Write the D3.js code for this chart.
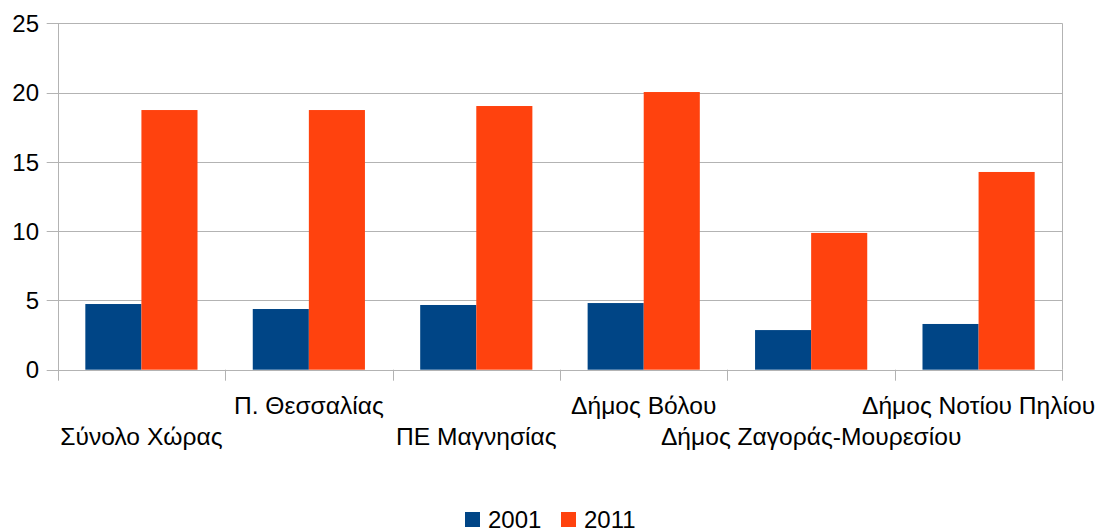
<!DOCTYPE html>
<html>
<head>
<meta charset="utf-8">
<script src="https://cdn.jsdelivr.net/npm/d3@7"></script>
<style>
  body { margin: 0; background: #fff; }
  svg { display: block; font-family: "Liberation Sans", Arial, sans-serif; }
</style>
</head>
<body>
<div id="chart"></div>
<script>
// data
const categories = ['Σύνολο Χώρας', 'Π. Θεσσαλίας', 'ΠΕ Μαγνησίας', 'Δήμος Βόλου', 'Δήμος Ζαγοράς-Μουρεσίου', 'Δήμος Νοτίου Πηλίου']
const series = ['2001', '2011']
const values2001 = [4.74, 4.38, 4.67, 4.81, 2.86, 3.30]
const values2011 = [18.74, 18.74, 19.03, 20.04, 9.87, 14.27]
const yTicks = [0, 5, 10, 15, 20, 25]

const colors = ['#004586', '#ff420e']

// canvas
const width = 1108,
      height = 531,
      plotLeft = 57.7,
      plotRight = 1062.3,
      plotTop = 23.3,
      plotBottom = 369.7,
      fontSize = 24

let svg = d3.select('#chart')
  .append('svg')
  .attr('width', width)
  .attr('height', height)

let x = d3.scaleBand()
  .domain(categories)
  .range([plotLeft, plotRight])
  .paddingInner(0)
  .paddingOuter(0)

let inner = d3.scaleBand()
  .domain(series)
  .range([x.bandwidth() * 0.165, x.bandwidth() * 0.835])

let y = d3.scaleLinear()
  .domain([0, 25])
  .range([plotBottom, plotTop])

// grid lines
svg.append('g')
  .selectAll('line')
  .data(yTicks)
  .enter()
  .append('line')
  .attr('x1', plotLeft - 11)
  .attr('x2', plotRight)
  .attr('y1', d => Math.round(y(d)) + 0.5)
  .attr('y2', d => Math.round(y(d)) + 0.5)
  .attr('stroke', '#b3b3b3')
  .attr('stroke-width', 1)

// y labels
svg.append('g')
  .selectAll('text')
  .data(yTicks)
  .enter()
  .append('text')
  .attr('x', 39)
  .attr('y', d => y(d))
  .attr('dy', '0.36em')
  .attr('text-anchor', 'end')
  .attr('font-size', fontSize)
  .attr('fill', '#000')
  .text(d => d)

// bars
let rows = categories.map((c, i) => ({ cat: c, vals: [values2001[i], values2011[i]] }))

let groups = svg.append('g')
  .selectAll('g')
  .data(rows)
  .enter()
  .append('g')
  .attr('transform', d => `translate(${x(d.cat)},0)`)

groups.selectAll('rect')
  .data(d => d.vals.map((v, j) => ({ key: series[j], v: v, j: j })))
  .enter()
  .append('rect')
  .attr('x', d => inner(d.key))
  .attr('width', inner.bandwidth())
  .attr('y', d => y(d.v))
  .attr('height', d => plotBottom - y(d.v))
  .attr('fill', d => colors[d.j])

// axes lines
svg.append('line')
  .attr('x1', Math.round(plotLeft) + 0.5).attr('x2', Math.round(plotLeft) + 0.5)
  .attr('y1', plotTop).attr('y2', plotBottom + 11)
  .attr('stroke', '#b3b3b3')

svg.append('line')
  .attr('x1', Math.round(plotRight) + 0.5).attr('x2', Math.round(plotRight) + 0.5)
  .attr('y1', plotTop).attr('y2', plotBottom)
  .attr('stroke', '#b3b3b3')

svg.append('g')
  .selectAll('line')
  .data(categories)
  .enter()
  .append('line')
  .attr('x1', d => Math.round(x(d) + x.step()) + 0.5)
  .attr('x2', d => Math.round(x(d) + x.step()) + 0.5)
  .attr('y1', plotBottom)
  .attr('y2', plotBottom + 11)
  .attr('stroke', '#b3b3b3')

// x labels, staggered
svg.append('g')
  .selectAll('text')
  .data(categories)
  .enter()
  .append('text')
  .attr('x', d => x(d) + x.bandwidth() / 2)
  .attr('y', (d, i) => i % 2 === 0 ? 445 : 414)
  .attr('text-anchor', 'middle')
  .attr('font-size', 24.6)
  .attr('fill', '#000')
  .text(d => d)

// legend
let legend = svg.append('g')
let legendX = [465, 561]
series.forEach((s, i) => {
  legend.append('rect')
    .attr('x', legendX[i])
    .attr('y', 512)
    .attr('width', 15)
    .attr('height', 15)
    .attr('fill', colors[i])
  legend.append('text')
    .attr('x', legendX[i] + 23)
    .attr('y', 528)
    .attr('font-size', fontSize)
    .attr('fill', '#000')
    .text(s)
})
</script>
</body>
</html>
